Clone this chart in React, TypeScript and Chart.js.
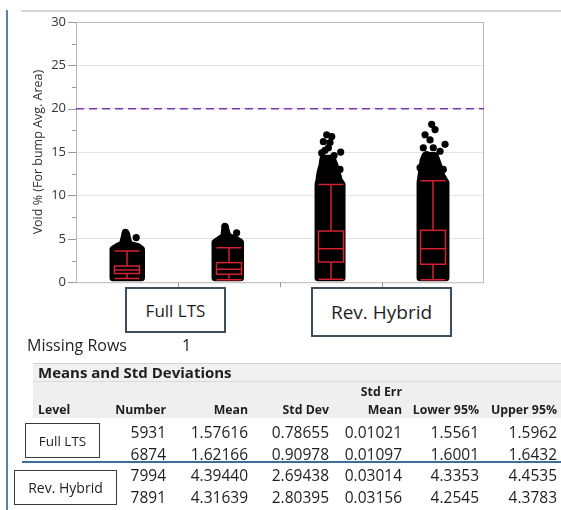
import React, { useEffect, useRef } from 'react';
import { Chart, registerables } from 'chart.js';

Chart.register(...registerables);

const FONT = "'Open Sans', 'Noto Sans', sans-serif";
const TEXT = '#1e1e1e';

// Four levels along the x axis
const levelPositions = [1, 2, 3, 4];

// Outlier box-plot statistics, one entry per level
const whiskerLow = [0.42, 0.27, 0.34, 0.27];
const quartile1 = [1.0, 0.92, 2.33, 2.07];
const medians = [1.41, 1.49, 3.87, 3.87];
const quartile3 = [1.87, 2.26, 5.9, 5.98];
const whiskerHigh = [3.6, 3.98, 11.26, 11.7];

// Dense jittered point clouds: outline levels with left / right spread (x units)
const cloudLevels = [
  [0.5, 3.8, 4.1, 4.4, 5.1, 5.6],
  [0.5, 4.6, 5.0, 5.3, 6.0, 6.3],
  [0.5, 11.3, 11.8, 12.6, 13.5, 14.3],
  [0.5, 11.5, 12.2, 13.0, 14.0, 14.6],
];
const cloudLeft = [
  [-0.137, -0.137, -0.098, -0.044, -0.029, -0.02],
  [-0.137, -0.137, -0.088, -0.049, -0.044, -0.039],
  [-0.127, -0.127, -0.118, -0.108, -0.088, -0.078],
  [-0.127, -0.127, -0.118, -0.108, -0.098, -0.078],
];
const cloudRight = [
  [0.142, 0.142, 0.108, 0.02, 0.005, -0.005],
  [0.113, 0.113, 0.059, -0.01, -0.029, -0.034],
  [0.108, 0.108, 0.078, 0.059, 0.039, 0.01],
  [0.127, 0.127, 0.088, 0.069, 0.039, 0.02],
];

// Isolated points above the dense clouds
const sparseLevel = [1, 1, 2, 2, 3, 3, 3, 3, 3, 3, 3, 3, 3, 3, 3, 4, 4, 4, 4, 4, 4, 4, 4, 4, 4, 4, 4, 4, 4];
const sparseOffset = [
  0.09, -0.015, 0.075, -0.04,
  -0.042, 0.007, -0.075, -0.01, -0.026, 0.095, -0.091, 0.03, 0.088, 0.069, -0.059,
  -0.013, 0.02, -0.078, -0.029, 0.118, -0.095, 0.003, 0.069, -0.062, -0.095, -0.127, 0.101, 0.003, 0.098,
];
const sparseValue = [
  5.14, 5.75, 5.7, 6.45,
  17.0, 16.8, 16.2, 16.1, 15.5, 15.0, 14.9, 14.6, 13.0, 12.2, 15.2,
  18.2, 17.6, 17.0, 16.4, 15.9, 15.5, 15.5, 15.1, 14.7, 13.6, 13.2, 13.0, 12.6, 12.0,
];

const referenceLimit = 20;
const yTitle = 'Void % (For bump Avg. Area)';

// Means and Std Deviations table
const tableNumber = ['5931', '6874', '7994', '7891'];
const tableMean = ['1.57616', '1.62166', '4.39440', '4.31639'];
const tableStdDev = ['0.78655', '0.90978', '2.69438', '2.80395'];
const tableStdErr = ['0.01021', '0.01097', '0.03014', '0.03156'];
const tableLower = ['1.5561', '1.6001', '4.3353', '4.2545'];
const tableUpper = ['1.5962', '1.6432', '4.4535', '4.3783'];

const BOX_RED = '#d2232f';
const BOX_HALF = 12.5;

const cloudPlugin = {
  id: 'cloudPlugin',
  beforeDatasetsDraw(chart: any) {
    const { ctx, chartArea: a } = chart;
    const xs = chart.scales.x;
    const ys = chart.scales.y;
    ctx.save();
    // plot frame
    ctx.strokeStyle = '#b8b8b8';
    ctx.lineWidth = 1;
    ctx.strokeRect(a.left + 0.5, a.top + 0.5, a.right - a.left - 1, a.bottom - a.top);
    // y tick marks (major longer, minor shorter)
    ctx.strokeStyle = '#9a9a9a';
    ys.ticks.forEach((t: any) => {
      const py = Math.round(ys.getPixelForValue(t.value)) + 0.5;
      const major = t.value % 5 === 0;
      ctx.beginPath();
      ctx.moveTo(a.left - (major ? 8 : 4), py);
      ctx.lineTo(a.left, py);
      ctx.stroke();
    });
    // x tick marks at level boundaries
    for (let i = 0; i < levelPositions.length - 1; i++) {
      const px = Math.round(xs.getPixelForValue((levelPositions[i] + levelPositions[i + 1]) / 2)) + 0.5;
      ctx.beginPath();
      ctx.moveTo(px, a.bottom);
      ctx.lineTo(px, a.bottom + 5);
      ctx.stroke();
    }
    // dense clouds
    ctx.fillStyle = '#000';
    ctx.strokeStyle = '#000';
    ctx.lineWidth = 7;
    ctx.lineJoin = 'round';
    levelPositions.forEach((c, g) => {
      const lv = cloudLevels[g];
      ctx.beginPath();
      lv.forEach((v, k) => {
        const px = xs.getPixelForValue(c + cloudLeft[g][k]);
        const py = ys.getPixelForValue(v);
        if (k === 0) ctx.moveTo(px, py);
        else ctx.lineTo(px, py);
      });
      for (let k = lv.length - 1; k >= 0; k--) {
        ctx.lineTo(xs.getPixelForValue(c + cloudRight[g][k]), ys.getPixelForValue(lv[k]));
      }
      ctx.closePath();
      ctx.fill();
      ctx.stroke();
    });
    ctx.restore();
  },
  afterDatasetsDraw(chart: any) {
    const { ctx } = chart;
    const xs = chart.scales.x;
    const ys = chart.scales.y;
    ctx.save();
    ctx.strokeStyle = BOX_RED;
    ctx.lineWidth = 1.5;
    levelPositions.forEach((c, i) => {
      const cx = xs.getPixelForValue(c);
      const yLo = ys.getPixelForValue(whiskerLow[i]);
      const yQ1 = ys.getPixelForValue(quartile1[i]);
      const yMed = ys.getPixelForValue(medians[i]);
      const yQ3 = ys.getPixelForValue(quartile3[i]);
      const yHi = ys.getPixelForValue(whiskerHigh[i]);
      ctx.strokeRect(cx - BOX_HALF, yQ3, BOX_HALF * 2, yQ1 - yQ3);
      ctx.beginPath();
      ctx.moveTo(cx - BOX_HALF, yMed); ctx.lineTo(cx + BOX_HALF, yMed);
      ctx.moveTo(cx, yQ3); ctx.lineTo(cx, yHi);
      ctx.moveTo(cx, yQ1); ctx.lineTo(cx, yLo);
      ctx.moveTo(cx - BOX_HALF, yHi); ctx.lineTo(cx + BOX_HALF, yHi);
      ctx.moveTo(cx - BOX_HALF, yLo); ctx.lineTo(cx + BOX_HALF, yLo);
      ctx.stroke();
    });
    ctx.restore();
  },
};

function VoidChart() {
  const ref = useRef<HTMLCanvasElement | null>(null);
  useEffect(() => {
    if (!ref.current) return;
    const points = sparseValue.map((v, i) => ({ x: sparseLevel[i] + sparseOffset[i], y: v }));
    const chart = new Chart(ref.current, {
      type: 'scatter',
      data: {
        datasets: [
          {
            data: points,
            pointRadius: 3.6,
            pointBackgroundColor: '#000',
            pointBorderWidth: 0,
          },
          {
            data: [{ x: 0.5, y: referenceLimit }, { x: 4.5, y: referenceLimit }],
            showLine: true,
            pointRadius: 0,
            borderColor: '#7a35b0',
            borderWidth: 1.5,
            borderDash: [8, 5],
          },
        ],
      },
      options: {
        animation: false,
        responsive: false,
        events: [],
        layout: { padding: { top: 22, right: 77, bottom: 17, left: 0 } },
        plugins: { legend: { display: false }, tooltip: { enabled: false } },
        scales: {
          x: { type: 'linear', min: 0.5, max: 4.5, display: false },
          y: {
            min: 0,
            max: 30,
            border: { display: false },
            afterFit: (s: any) => { s.width = 76; },
            ticks: {
              stepSize: 2.5,
              padding: 10,
              color: '#333',
              font: { family: FONT, size: 13 },
              callback: (v: any) => (Number(v) % 5 === 0 ? String(v) : ''),
            },
            grid: {
              drawTicks: false,
              color: (c: any) => {
                const v = c.tick ? c.tick.value : 0;
                return v % 5 === 0 && v > 0 && v < 30 ? '#e4e4e4' : 'rgba(0,0,0,0)';
              },
            },
            title: {
              display: true,
              text: yTitle,
              color: '#333',
              font: { family: FONT, size: 12.5 },
              padding: { top: 31 },
            },
          },
        },
      },
      plugins: [cloudPlugin],
    });
    return () => chart.destroy();
  }, []);
  return (
    <canvas
      ref={ref}
      width={561}
      height={300}
      style={{ position: 'absolute', left: 0, top: 0, width: 561, height: 300 }}
    />
  );
}

function Label(props: { x: number; y: number; size: number; bold?: boolean; align?: 'left' | 'right'; children: any }) {
  const { x, y, size, bold, align = 'left', children } = props;
  const style: React.CSSProperties = {
    position: 'absolute',
    top: y - size,
    height: size * 2,
    lineHeight: `${size * 2}px`,
    fontSize: size,
    fontWeight: bold ? 700 : 400,
    fontFamily: FONT,
    color: TEXT,
    whiteSpace: 'nowrap',
  };
  if (align === 'right') style.right = 561 - x;
  else style.left = x;
  return <div style={style}>{children}</div>;
}

function Tag(props: { x: number; y: number; w: number; h: number; size: number; border: string; bw: number; text: string }) {
  const { x, y, w, h, size, border, bw, text } = props;
  return (
    <div
      style={{
        position: 'absolute',
        left: x,
        top: y,
        width: w,
        height: h,
        boxSizing: 'border-box',
        border: `${bw}px solid ${border}`,
        background: '#fff',
        display: 'flex',
        alignItems: 'center',
        justifyContent: 'center',
        fontFamily: FONT,
        fontSize: size,
        color: TEXT,
        whiteSpace: 'nowrap',
      }}
    >
      {text}
    </div>
  );
}

const colRight = [166, 248, 329, 402, 479, 557];
const rowY = [432, 454, 475, 497];

export default function App() {
  const columns = [tableNumber, tableMean, tableStdDev, tableStdErr, tableLower, tableUpper];
  return (
    <div style={{ position: 'absolute', left: 0, top: 0, width: 561, height: 510, background: '#fff', overflow: 'hidden' }}>
      <div style={{ position: 'absolute', left: 6, top: 10, width: 2, height: 500, background: '#5583ad' }} />
      <div style={{ position: 'absolute', left: 21, top: 10, width: 540, height: 2, background: '#d6d6d6' }} />
      <VoidChart />
      <Tag x={125} y={287} w={101} h={46} size={17} border="#3e4c5c" bw={2} text="Full LTS" />
      <Tag x={311} y={287} w={141} h={50} size={19} border="#3e4c5c" bw={2} text="Rev. Hybrid" />

      <Label x={27} y={345} size={16}>Missing Rows</Label>
      <Label x={182} y={345} size={16}>1</Label>

      <div style={{ position: 'absolute', left: 33, top: 363, width: 528, height: 19, background: '#f0f0f0', borderTop: '1px solid #d2d2d2', borderBottom: '1px solid #dadada', boxSizing: 'border-box' }} />
      <div style={{ position: 'absolute', left: 33, top: 382, width: 528, height: 36, background: '#efefef' }} />
      <Label x={38} y={372} size={15} bold>Means and Std Deviations</Label>
      <Label x={38} y={410} size={12.3} bold>Level</Label>
      <Label x={colRight[0]} y={410} size={12.3} bold align="right">Number</Label>
      <Label x={colRight[1]} y={410} size={12.3} bold align="right">Mean</Label>
      <Label x={colRight[2]} y={410} size={12.3} bold align="right">Std Dev</Label>
      <Label x={colRight[3]} y={392} size={12.3} bold align="right">Std Err</Label>
      <Label x={colRight[3]} y={410} size={12.3} bold align="right">Mean</Label>
      <Label x={colRight[4]} y={410} size={12.3} bold align="right">Lower 95%</Label>
      <Label x={colRight[5]} y={410} size={12.3} bold align="right">Upper 95%</Label>

      {columns.map((col, c) =>
        col.map((val, r) => (
          <Label key={`${c}-${r}`} x={colRight[c]} y={rowY[r]} size={15.5} align="right">{val}</Label>
        ))
      )}

      <div style={{ position: 'absolute', left: 22, top: 461, width: 539, height: 2, background: '#3a6f99' }} />
      <Tag x={25} y={423} w={75} h={35} size={13.5} border="#3a3a3a" bw={1.5} text="Full LTS" />
      <Tag x={14} y={470} w={103} h={35} size={14} border="#3a3a3a" bw={1.5} text="Rev. Hybrid" />
    </div>
  );
}
